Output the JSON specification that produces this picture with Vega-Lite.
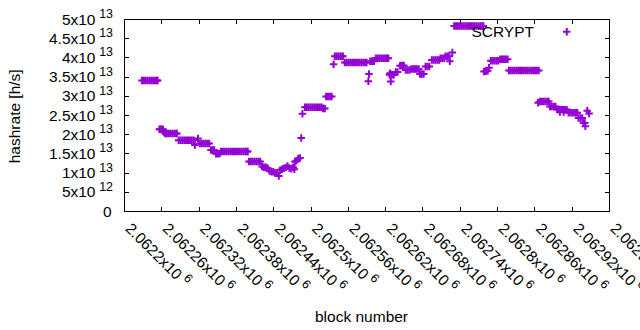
{
  "$schema": "https://vega.github.io/schema/vega-lite/v6.json",
  "width": 485,
  "height": 192,
  "autosize": {"type": "none"},
  "padding": {"left": 124, "top": 19, "right": 31, "bottom": 119},
  "config": {
    "font": "Liberation Sans",
    "view": {"stroke": "#000000", "strokeWidth": 1},
    "axis": {
      "labelColor": "#000000", "titleColor": "#000000", "tickColor": "#000000",
      "grid": false, "domain": false, "labelFont": "Liberation Sans", "titleFont": "Liberation Sans",
      "labelFlush": false, "labelOverlap": false, "titleFontWeight": "normal",
      "labelFontSize": 15.5, "titleFontSize": 15.5, "tickWidth": 1
    }
  },
  "data": {"values": [
    {"block": 2062229, "hashrate": 3.40e13}, {"block": 2062232, "hashrate": 3.40e13}, {"block": 2062235, "hashrate": 3.40e13}, {"block": 2062238, "hashrate": 3.40e13}, {"block": 2062241, "hashrate": 3.40e13}, {"block": 2062244, "hashrate": 3.40e13}, {"block": 2062247, "hashrate": 3.40e13}, {"block": 2062250, "hashrate": 3.40e13}, {"block": 2062253, "hashrate": 3.40e13}, {"block": 2062254, "hashrate": 3.40e13},
    {"block": 2062257, "hashrate": 2.13e13}, {"block": 2062259, "hashrate": 2.13e13}, {"block": 2062261, "hashrate": 2.13e13}, {"block": 2062263, "hashrate": 2.12e13}, {"block": 2062264, "hashrate": 2.06e13},
    {"block": 2062266, "hashrate": 2.02e13}, {"block": 2062269, "hashrate": 2.02e13}, {"block": 2062272, "hashrate": 2.02e13}, {"block": 2062275, "hashrate": 2.02e13}, {"block": 2062278, "hashrate": 2.02e13}, {"block": 2062281, "hashrate": 2.02e13}, {"block": 2062284, "hashrate": 2.02e13}, {"block": 2062285, "hashrate": 2.02e13},
    {"block": 2062288, "hashrate": 1.84e13}, {"block": 2062291, "hashrate": 1.84e13}, {"block": 2062294, "hashrate": 1.84e13}, {"block": 2062297, "hashrate": 1.84e13}, {"block": 2062300, "hashrate": 1.84e13}, {"block": 2062303, "hashrate": 1.84e13}, {"block": 2062306, "hashrate": 1.84e13}, {"block": 2062309, "hashrate": 1.84e13}, {"block": 2062312, "hashrate": 1.84e13},
    {"block": 2062314, "hashrate": 1.72e13}, {"block": 2062319, "hashrate": 1.89e13},
    {"block": 2062322, "hashrate": 1.76e13}, {"block": 2062325, "hashrate": 1.76e13}, {"block": 2062328, "hashrate": 1.76e13}, {"block": 2062331, "hashrate": 1.76e13}, {"block": 2062334, "hashrate": 1.76e13}, {"block": 2062337, "hashrate": 1.76e13},
    {"block": 2062340, "hashrate": 1.59e13}, {"block": 2062343, "hashrate": 1.59e13}, {"block": 2062345, "hashrate": 1.59e13},
    {"block": 2062348, "hashrate": 1.49e13}, {"block": 2062351, "hashrate": 1.49e13}, {"block": 2062354, "hashrate": 1.50e13},
    {"block": 2062356, "hashrate": 1.55e13}, {"block": 2062359, "hashrate": 1.55e13}, {"block": 2062362, "hashrate": 1.55e13}, {"block": 2062365, "hashrate": 1.55e13}, {"block": 2062368, "hashrate": 1.55e13}, {"block": 2062371, "hashrate": 1.55e13}, {"block": 2062374, "hashrate": 1.55e13}, {"block": 2062377, "hashrate": 1.55e13}, {"block": 2062380, "hashrate": 1.55e13}, {"block": 2062383, "hashrate": 1.55e13}, {"block": 2062386, "hashrate": 1.55e13}, {"block": 2062389, "hashrate": 1.55e13}, {"block": 2062392, "hashrate": 1.55e13}, {"block": 2062395, "hashrate": 1.55e13}, {"block": 2062398, "hashrate": 1.55e13}, {"block": 2062399, "hashrate": 1.55e13},
    {"block": 2062401, "hashrate": 1.29e13}, {"block": 2062404, "hashrate": 1.29e13}, {"block": 2062407, "hashrate": 1.29e13}, {"block": 2062410, "hashrate": 1.29e13}, {"block": 2062413, "hashrate": 1.29e13}, {"block": 2062416, "hashrate": 1.29e13}, {"block": 2062419, "hashrate": 1.29e13},
    {"block": 2062422, "hashrate": 1.16e13}, {"block": 2062425, "hashrate": 1.14e13}, {"block": 2062428, "hashrate": 1.14e13}, {"block": 2062431, "hashrate": 1.12e13},
    {"block": 2062434, "hashrate": 1.04e13}, {"block": 2062437, "hashrate": 1.02e13}, {"block": 2062440, "hashrate": 1.02e13}, {"block": 2062443, "hashrate": 0.99e13}, {"block": 2062446, "hashrate": 0.99e13}, {"block": 2062449, "hashrate": 0.91e13},
    {"block": 2062451, "hashrate": 1.06e13}, {"block": 2062454, "hashrate": 1.09e13}, {"block": 2062457, "hashrate": 1.11e13}, {"block": 2062460, "hashrate": 1.13e13}, {"block": 2062463, "hashrate": 1.17e13}, {"block": 2062466, "hashrate": 1.12e13}, {"block": 2062469, "hashrate": 1.10e13}, {"block": 2062472, "hashrate": 1.14e13}, {"block": 2062474, "hashrate": 1.09e13},
    {"block": 2062475, "hashrate": 1.28e13}, {"block": 2062477, "hashrate": 1.31e13}, {"block": 2062480, "hashrate": 1.36e13}, {"block": 2062483, "hashrate": 1.38e13}, {"block": 2062485, "hashrate": 1.90e13}, {"block": 2062487, "hashrate": 2.53e13},
    {"block": 2062491, "hashrate": 2.70e13}, {"block": 2062494, "hashrate": 2.70e13}, {"block": 2062497, "hashrate": 2.70e13}, {"block": 2062500, "hashrate": 2.70e13}, {"block": 2062503, "hashrate": 2.70e13}, {"block": 2062506, "hashrate": 2.70e13}, {"block": 2062509, "hashrate": 2.70e13}, {"block": 2062512, "hashrate": 2.70e13}, {"block": 2062515, "hashrate": 2.70e13}, {"block": 2062518, "hashrate": 2.70e13}, {"block": 2062520, "hashrate": 2.67e13}, {"block": 2062523, "hashrate": 2.67e13},
    {"block": 2062525, "hashrate": 2.98e13}, {"block": 2062528, "hashrate": 2.98e13}, {"block": 2062531, "hashrate": 2.98e13}, {"block": 2062534, "hashrate": 2.98e13},
    {"block": 2062537, "hashrate": 3.82e13},
    {"block": 2062539, "hashrate": 4.03e13}, {"block": 2062542, "hashrate": 4.03e13}, {"block": 2062545, "hashrate": 4.03e13}, {"block": 2062548, "hashrate": 4.03e13}, {"block": 2062551, "hashrate": 4.03e13}, {"block": 2062552, "hashrate": 4.03e13},
    {"block": 2062555, "hashrate": 3.87e13}, {"block": 2062558, "hashrate": 3.87e13}, {"block": 2062561, "hashrate": 3.87e13}, {"block": 2062564, "hashrate": 3.87e13}, {"block": 2062567, "hashrate": 3.87e13}, {"block": 2062570, "hashrate": 3.87e13}, {"block": 2062573, "hashrate": 3.87e13}, {"block": 2062576, "hashrate": 3.87e13}, {"block": 2062579, "hashrate": 3.87e13}, {"block": 2062582, "hashrate": 3.87e13}, {"block": 2062585, "hashrate": 3.87e13}, {"block": 2062588, "hashrate": 3.87e13}, {"block": 2062590, "hashrate": 3.87e13},
    {"block": 2062593, "hashrate": 3.38e13}, {"block": 2062594, "hashrate": 3.57e13},
    {"block": 2062596, "hashrate": 3.90e13}, {"block": 2062599, "hashrate": 3.90e13}, {"block": 2062602, "hashrate": 3.90e13},
    {"block": 2062605, "hashrate": 3.98e13}, {"block": 2062608, "hashrate": 3.98e13}, {"block": 2062611, "hashrate": 3.98e13}, {"block": 2062614, "hashrate": 3.98e13}, {"block": 2062617, "hashrate": 3.98e13}, {"block": 2062620, "hashrate": 3.98e13}, {"block": 2062623, "hashrate": 3.98e13}, {"block": 2062625, "hashrate": 3.98e13},
    {"block": 2062627, "hashrate": 3.55e13}, {"block": 2062628, "hashrate": 3.59e13}, {"block": 2062629, "hashrate": 3.37e13}, {"block": 2062631, "hashrate": 3.55e13}, {"block": 2062634, "hashrate": 3.55e13},
    {"block": 2062637, "hashrate": 3.62e13}, {"block": 2062640, "hashrate": 3.62e13}, {"block": 2062644, "hashrate": 3.78e13}, {"block": 2062647, "hashrate": 3.79e13}, {"block": 2062650, "hashrate": 3.79e13},
    {"block": 2062653, "hashrate": 3.67e13}, {"block": 2062656, "hashrate": 3.67e13}, {"block": 2062659, "hashrate": 3.67e13},
    {"block": 2062662, "hashrate": 3.70e13}, {"block": 2062665, "hashrate": 3.70e13}, {"block": 2062668, "hashrate": 3.70e13}, {"block": 2062671, "hashrate": 3.70e13}, {"block": 2062674, "hashrate": 3.70e13},
    {"block": 2062676, "hashrate": 3.57e13}, {"block": 2062679, "hashrate": 3.57e13}, {"block": 2062682, "hashrate": 3.57e13},
    {"block": 2062685, "hashrate": 3.76e13}, {"block": 2062688, "hashrate": 3.76e13}, {"block": 2062691, "hashrate": 3.76e13},
    {"block": 2062695, "hashrate": 3.93e13}, {"block": 2062698, "hashrate": 3.93e13}, {"block": 2062701, "hashrate": 3.93e13}, {"block": 2062704, "hashrate": 3.93e13}, {"block": 2062707, "hashrate": 3.93e13},
    {"block": 2062709, "hashrate": 3.98e13}, {"block": 2062712, "hashrate": 3.98e13}, {"block": 2062715, "hashrate": 3.98e13},
    {"block": 2062717, "hashrate": 4.03e13}, {"block": 2062720, "hashrate": 4.03e13}, {"block": 2062723, "hashrate": 4.03e13}, {"block": 2062724, "hashrate": 3.90e13}, {"block": 2062728, "hashrate": 4.13e13},
    {"block": 2062731, "hashrate": 4.82e13}, {"block": 2062734, "hashrate": 4.82e13}, {"block": 2062737, "hashrate": 4.82e13}, {"block": 2062740, "hashrate": 4.82e13}, {"block": 2062743, "hashrate": 4.82e13}, {"block": 2062746, "hashrate": 4.82e13}, {"block": 2062749, "hashrate": 4.82e13}, {"block": 2062752, "hashrate": 4.82e13}, {"block": 2062755, "hashrate": 4.82e13}, {"block": 2062758, "hashrate": 4.82e13}, {"block": 2062761, "hashrate": 4.82e13}, {"block": 2062764, "hashrate": 4.82e13}, {"block": 2062767, "hashrate": 4.82e13}, {"block": 2062770, "hashrate": 4.82e13}, {"block": 2062773, "hashrate": 4.82e13}, {"block": 2062776, "hashrate": 4.82e13}, {"block": 2062778, "hashrate": 4.82e13},
    {"block": 2062779, "hashrate": 3.63e13}, {"block": 2062782, "hashrate": 3.64e13}, {"block": 2062785, "hashrate": 3.65e13}, {"block": 2062787, "hashrate": 3.73e13},
    {"block": 2062790, "hashrate": 3.91e13}, {"block": 2062793, "hashrate": 3.91e13}, {"block": 2062796, "hashrate": 3.91e13}, {"block": 2062799, "hashrate": 3.91e13}, {"block": 2062802, "hashrate": 3.91e13},
    {"block": 2062805, "hashrate": 3.95e13}, {"block": 2062808, "hashrate": 3.95e13}, {"block": 2062811, "hashrate": 3.95e13}, {"block": 2062814, "hashrate": 3.95e13}, {"block": 2062817, "hashrate": 3.95e13},
    {"block": 2062819, "hashrate": 3.66e13}, {"block": 2062822, "hashrate": 3.66e13}, {"block": 2062825, "hashrate": 3.66e13}, {"block": 2062828, "hashrate": 3.66e13}, {"block": 2062831, "hashrate": 3.66e13}, {"block": 2062834, "hashrate": 3.66e13}, {"block": 2062837, "hashrate": 3.66e13}, {"block": 2062840, "hashrate": 3.66e13}, {"block": 2062843, "hashrate": 3.66e13}, {"block": 2062846, "hashrate": 3.66e13}, {"block": 2062849, "hashrate": 3.66e13}, {"block": 2062852, "hashrate": 3.66e13}, {"block": 2062855, "hashrate": 3.66e13}, {"block": 2062858, "hashrate": 3.66e13}, {"block": 2062861, "hashrate": 3.66e13}, {"block": 2062864, "hashrate": 3.66e13}, {"block": 2062867, "hashrate": 3.66e13},
    {"block": 2062866, "hashrate": 2.82e13},
    {"block": 2062869, "hashrate": 2.85e13}, {"block": 2062872, "hashrate": 2.85e13}, {"block": 2062875, "hashrate": 2.85e13}, {"block": 2062878, "hashrate": 2.85e13}, {"block": 2062881, "hashrate": 2.85e13}, {"block": 2062883, "hashrate": 2.85e13},
    {"block": 2062885, "hashrate": 2.72e13}, {"block": 2062888, "hashrate": 2.72e13}, {"block": 2062891, "hashrate": 2.72e13}, {"block": 2062894, "hashrate": 2.72e13},
    {"block": 2062897, "hashrate": 2.64e13}, {"block": 2062900, "hashrate": 2.64e13}, {"block": 2062901, "hashrate": 2.58e13}, {"block": 2062903, "hashrate": 2.64e13}, {"block": 2062906, "hashrate": 2.64e13}, {"block": 2062907, "hashrate": 2.58e13}, {"block": 2062909, "hashrate": 2.64e13}, {"block": 2062912, "hashrate": 2.64e13},
    {"block": 2062915, "hashrate": 2.56e13}, {"block": 2062918, "hashrate": 2.56e13}, {"block": 2062921, "hashrate": 2.56e13}, {"block": 2062924, "hashrate": 2.56e13}, {"block": 2062927, "hashrate": 2.56e13}, {"block": 2062929, "hashrate": 2.56e13},
    {"block": 2062931, "hashrate": 2.42e13}, {"block": 2062934, "hashrate": 2.42e13}, {"block": 2062937, "hashrate": 2.42e13},
    {"block": 2062939, "hashrate": 2.29e13}, {"block": 2062941, "hashrate": 2.29e13}, {"block": 2062942, "hashrate": 2.21e13},
    {"block": 2062945, "hashrate": 2.61e13}, {"block": 2062948, "hashrate": 2.54e13}
  ]},
  "layer": [
    {
      "mark": {"type": "point", "shape": "M-1,0L1,0M0,-1L0,1", "size": 56, "strokeWidth": 2, "filled": false, "opacity": 1},
      "encoding": {
        "x": {"field": "block", "type": "quantitative",
          "scale": {"domain": [2062200, 2062980], "nice": false, "zero": false},
          "axis": {"orient": "bottom", "values": [2062200, 2062260, 2062320, 2062380, 2062440, 2062500, 2062560, 2062620, 2062680, 2062740, 2062800, 2062860, 2062920, 2062980],
            "ticks": false, "labelExpr": "format(datum.value / 1000000, '.6~g') + 'x10'",
            "labelAngle": 45, "labelAlign": "left", "labelBaseline": "alphabetic", "labelOffset": 0, "labelPadding": 18,
            "title": "block number", "titleX": 237, "titleY": 110.7, "titleAlign": "center", "titleBaseline": "alphabetic", "titleAngle": 0}},
        "y": {"field": "hashrate", "type": "quantitative",
          "scale": {"domain": [0, 5e13], "nice": false},
          "axis": {"orient": "left", "values": [0, 5e12, 1e13, 1.5e13, 2e13, 2.5e13, 3e13, 3.5e13, 4e13, 4.5e13, 5e13],
            "ticks": false,
            "labelExpr": "datum.value == 0 ? '0' : (datum.value >= 1e13 ? format(datum.value / 1e13, '~g') : format(datum.value / 1e12, '~g')) + 'x10'",
            "labelAlign": "right", "labelBaseline": "alphabetic",
            "labelPadding": {"condition": {"test": "datum.value == 0", "value": 13}, "value": 29},
            "labelOffset": 5,
            "title": "hashrate [h/s]", "titleX": -104.7, "titleY": 96.8, "titleAngle": -90, "titleAlign": "center", "titleBaseline": "alphabetic"}},
        "color": {"datum": "SCRYPT", "scale": {"range": ["#9400d3"]},
          "legend": {"orient": "none", "legendX": 435, "legendY": 5, "title": null, "labelAlign": "right", "labelOffset": -40.5,
            "labelFontSize": 15.5, "labelFont": "Liberation Sans", "labelColor": "#000000", "labelBaseline": "middle",
            "symbolType": "M-1,0L1,0M0,-1L0,1", "symbolSize": 56, "symbolStrokeWidth": 2, "symbolFillColor": "transparent", "symbolStrokeColor": "#9400d3", "padding": 0}}
      }
    },
    {
      "mark": {"type": "point", "opacity": 0},
      "encoding": {
        "x": {"field": "block", "type": "quantitative",
          "scale": {"domain": [2062200, 2062980], "nice": false, "zero": false},
          "axis": {"orient": "bottom", "values": [2062200, 2062260, 2062320, 2062380, 2062440, 2062500, 2062560, 2062620, 2062680, 2062740, 2062800, 2062860, 2062920, 2062980],
            "ticks": false, "labelExpr": "'6'", "labelFontSize": 12.4,
            "labelAngle": 45, "labelAlign": "left", "labelBaseline": "alphabetic",
            "labelOffset": {"condition": {"test": "datum.value % 100 === 0", "value": 58.4}, "value": 64.5},
            "labelPadding": {"condition": {"test": "datum.value % 100 === 0", "value": 67.2}, "value": 73.3},
            "title": null}},
        "y": {"field": "hashrate", "type": "quantitative",
          "scale": {"domain": [0, 5e13], "nice": false},
          "axis": {"orient": "left", "values": [5e12, 1e13, 1.5e13, 2e13, 2.5e13, 3e13, 3.5e13, 4e13, 4.5e13, 5e13],
            "ticks": false, "labelExpr": "datum.value >= 1e13 ? '13' : '12'", "labelFontSize": 12.4,
            "labelAlign": "left", "labelBaseline": "alphabetic", "labelPadding": 25.3, "labelOffset": -1.5,
            "title": null}}
      }
    },
    {
      "mark": {"type": "point", "opacity": 0},
      "encoding": {
        "x": {"field": "block", "type": "quantitative",
          "scale": {"domain": [2062200, 2062980], "nice": false, "zero": false},
          "axis": {"orient": "top", "values": [2062200, 2062260, 2062320, 2062380, 2062440, 2062500, 2062560, 2062620, 2062680, 2062740, 2062800, 2062860, 2062920, 2062980],
            "labels": false, "tickSize": -4.5, "title": null}},
        "y": {"field": "hashrate", "type": "quantitative",
          "scale": {"domain": [0, 5e13], "nice": false},
          "axis": {"orient": "right", "values": [0, 5e12, 1e13, 1.5e13, 2e13, 2.5e13, 3e13, 3.5e13, 4e13, 4.5e13, 5e13],
            "labels": false, "tickSize": -4.5, "title": null}}
      }
    },
    {
      "mark": {"type": "point", "opacity": 0},
      "encoding": {
        "x": {"field": "block", "type": "quantitative",
          "scale": {"domain": [2062200, 2062980], "nice": false, "zero": false},
          "axis": {"orient": "bottom", "values": [2062200, 2062260, 2062320, 2062380, 2062440, 2062500, 2062560, 2062620, 2062680, 2062740, 2062800, 2062860, 2062920, 2062980],
            "labels": false, "tickSize": -4.5, "title": null}},
        "y": {"field": "hashrate", "type": "quantitative",
          "scale": {"domain": [0, 5e13], "nice": false},
          "axis": {"orient": "left", "values": [0, 5e12, 1e13, 1.5e13, 2e13, 2.5e13, 3e13, 3.5e13, 4e13, 4.5e13, 5e13],
            "labels": false, "tickSize": -4.5, "title": null}}
      }
    }
  ],
  "resolve": {"axis": {"x": "independent", "y": "independent"}}
}
